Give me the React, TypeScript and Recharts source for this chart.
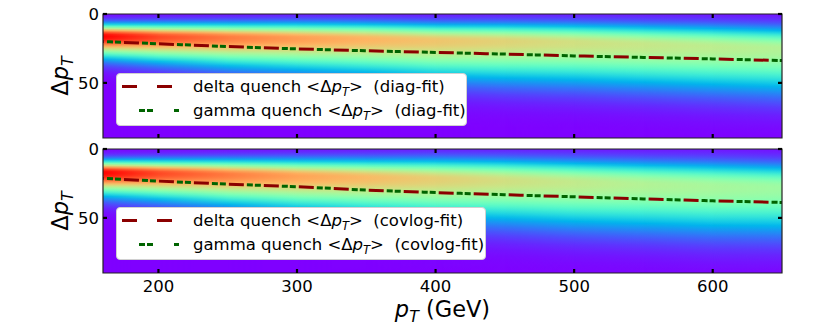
import React from 'react'
import { ComposedChart, Line, XAxis, YAxis, ReferenceArea, ReferenceLine, Legend } from 'recharts'

// p_T grid (GeV) shared by the fitted lines and the density band
const PT = [160, 200, 250, 300, 350, 400, 450, 500, 550, 600, 650]

// fitted mean <Δp_T> curves
const DELTA_DIAG = [20.0, 21.6, 23.6, 25.3, 26.7, 27.9, 29.1, 30.4, 31.5, 32.6, 33.8]
const GAMMA_DIAG = [20.0, 21.6, 23.6, 25.3, 26.7, 27.9, 29.1, 30.4, 31.5, 32.6, 33.8]
const DELTA_COVLOG = [21.3, 23.3, 25.5, 27.4, 29.8, 31.6, 33.2, 34.7, 36.2, 37.6, 38.8]
const GAMMA_COVLOG = [21.3, 23.3, 25.5, 27.4, 29.8, 31.6, 33.2, 34.7, 36.2, 37.6, 38.8]

// density band: mode, spread above / below, peak level
const MODE_DIAG = [16, 16.5, 17, 17.5, 18, 19, 19.5, 20.5, 22, 23.5, 25]
const UP_DIAG = [5.5, 6, 6.5, 7, 7.3, 7.6, 8, 8.5, 9, 9.5, 9.8]
const DOWN_DIAG = [10, 11.5, 13.5, 15, 16.5, 18, 19, 19.5, 20, 20.5, 21]
const PEAK_DIAG = [1.0, 0.91, 0.84, 0.79, 0.75, 0.72, 0.69, 0.66, 0.64, 0.62, 0.6]

const MODE_COVLOG = [17, 17.5, 18.5, 19.5, 20.5, 21.5, 22.5, 24, 25.5, 27, 28]
const UP_COVLOG = [5.5, 6, 6.8, 7.5, 8.2, 9, 9.5, 10, 10.5, 11, 11]
const DOWN_COVLOG = [10.5, 12, 14, 16, 17.5, 19, 20, 21, 21.5, 22, 22]
const PEAK_COVLOG = [1.0, 0.91, 0.84, 0.78, 0.74, 0.7, 0.66, 0.63, 0.6, 0.58, 0.56]

const X_TICKS = [200, 300, 400, 500, 600]
const Y_TICKS = [0, 50]
const X_DOMAIN = [160, 650]
const Y_MAX = 90
// inward tick length, in axis units (~4px)
const TICK_DX = 2.9
const TICK_DY = 2.9

const RED = '#8b0000'
const GREEN = '#006400'
const FONT = 'DejaVu Sans, sans-serif'

// matplotlib "rainbow" colormap
const rainbow = (t: number) => {
  const c = (v: number) => Math.round(Math.max(0, Math.min(1, v)) * 255)
  return `rgb(${c(Math.abs(2 * t - 0.5))},${c(Math.sin(Math.PI * t))},${c(Math.cos((Math.PI * t) / 2))})`
}

type Band = { mode: number[]; up: number[]; down: number[]; peak: number[] }

const bandStops = (band: Band, i: number) => {
  const stops = []
  for (let v = 0; v <= Y_MAX; v += 1.5) {
    const s = v < band.mode[i] ? band.up[i] : band.down[i]
    const t = band.peak[i] * Math.exp(-0.5 * ((v - band.mode[i]) / s) ** 2)
    stops.push({ offset: v / Y_MAX, color: rainbow(t) })
  }
  return stops
}

const HeatDefs = ({ id, band }: { id: string; band: Band }) => (
  <>
    {PT.map((_, i) => (
      <linearGradient key={i} id={`${id}-v${i}`} x1="0" y1="0" x2="0" y2="1">
        {bandStops(band, i).map((s, k) => (
          <stop key={k} offset={s.offset} stopColor={s.color} />
        ))}
      </linearGradient>
    ))}
  </>
)

const heatShape = (id: string, i: number) => (p: any) => {
  const w = p.width + (i < PT.length - 2 ? 0.8 : 0)
  return (
    <g>
      <rect x={p.x} y={p.y} width={w} height={p.height} fill={`url(#${id}-v${i})`} />
      <rect x={p.x} y={p.y} width={w} height={p.height} fill={`url(#${id}-v${i + 1})`} mask="url(#hmask)" />
    </g>
  )
}

const MathText = ({ x, y, size, pre, post }: any) => (
  <text x={x} y={y} fontSize={size} fontFamily={FONT} fill="#000" style={{ whiteSpace: 'pre' }}>
    {pre}Δ
    <tspan fontStyle="italic">p</tspan>
    <tspan fontStyle="italic" fontSize={size * 0.7} dy={size * 0.22}>T</tspan>
    <tspan dy={-size * 0.22}>{post}</tspan>
  </text>
)

const LegendBox = ({ fit, width }: { fit: string; width: number }) => (
  <div
    style={{
      width,
      height: 53,
      boxSizing: 'border-box',
      background: '#fff',
      border: '1px solid #d0d0d0',
      borderRadius: 4,
    }}
  >
    <svg width={width - 2} height={51} style={{ display: 'block' }}>
      <line x1={5} x2={55} y1={12.5} y2={12.5} stroke={RED} strokeWidth={3} strokeDasharray="15 20" />
      <line x1={22} x2={62} y1={36.5} y2={36.5} stroke={GREEN} strokeWidth={3} strokeDasharray="6 2 6 21" />
      <MathText x={76} y={18} size={16.5} pre="delta quench <" post={`>  (${fit})`} />
      <MathText x={76} y={42} size={16.5} pre="gamma quench <" post={`>  (${fit})`} />
    </svg>
  </div>
)

const YTitle = ({ cy }: { cy: number }) => (
  <g transform={`rotate(-90, 61, ${cy})`}>
    <text x={61} y={cy + 7} textAnchor="middle" fontSize={22.5} fontFamily={FONT} fill="#000">
      Δ<tspan fontStyle="italic">p</tspan>
      <tspan fontStyle="italic" fontSize={15.75} dy={5}>T</tspan>
    </text>
  </g>
)

const XTitle = ({ base }: { base: number }) => (
  <text x={442.5} y={base} textAnchor="middle" fontSize={22.5} fontFamily={FONT} fill="#000" style={{ whiteSpace: 'pre' }}>
    <tspan fontStyle="italic">p</tspan>
    <tspan fontStyle="italic" fontSize={15.75} dy={5}>T</tspan>
    <tspan dy={-5}> (GeV)</tspan>
  </text>
)

const tickFont = { fill: '#000', fontSize: 16.5, fontFamily: FONT }
const FRAME = '#222'

type PanelProps = {
  id: string
  fit: string
  delta: number[]
  gamma: number[]
  band: Band
  height: number
  plotTop: number
  plotBottom: number
  showX: boolean
  legendTop: number
  legendWidth: number
}

// plot box spans x 103..782 in every panel.
// The heat map and curves go in a base chart; the frame, ticks and legend in an overlay on top.
const Panel = ({ id, fit, delta, gamma, band, height, plotTop, plotBottom, showX, legendTop, legendWidth }: PanelProps) => {
  const data = PT.map((pT, i) => ({ pT, delta: delta[i], gamma: gamma[i] }))
  const baseMargin = { top: plotTop, right: 830 - 782, bottom: height - plotBottom, left: 103 }
  // the label axes take 1px each out of the margins
  const frameMargin = { top: plotTop, right: 830 - 782, bottom: height - plotBottom - 1, left: 103 - 1 }
  const xMin = X_DOMAIN[0]
  const xMax = X_DOMAIN[1]
  return (
    <div style={{ position: 'relative', width: 830, height }}>
      <div style={{ position: 'absolute', left: 0, top: 0, zIndex: 1 }}>
        <ComposedChart width={830} height={height} data={data} margin={baseMargin}>
          <XAxis dataKey="pT" type="number" domain={X_DOMAIN} allowDataOverflow hide />
          <YAxis type="number" domain={[0, Y_MAX]} reversed allowDataOverflow hide />
          {PT.slice(0, -1).map((pT, i) => (
            <ReferenceArea
              key={pT}
              x1={pT}
              x2={PT[i + 1]}
              y1={0}
              y2={Y_MAX}
              ifOverflow="visible"
              shape={heatShape(id, i)}
            />
          ))}
          <Line
            dataKey="gamma"
            type="monotone"
            stroke={GREEN}
            strokeWidth={3}
            strokeDasharray="6 2 6 21"
            strokeDashoffset={31}
            dot={false}
            isAnimationActive={false}
          />
          <Line
            dataKey="delta"
            type="monotone"
            stroke={RED}
            strokeWidth={3}
            strokeDasharray="15 20"
            strokeDashoffset={14}
            dot={false}
            isAnimationActive={false}
          />
        </ComposedChart>
      </div>
      <div style={{ position: 'absolute', left: 0, top: 0, zIndex: 2 }}>
        <ComposedChart width={830} height={height} data={data} margin={frameMargin}>
          <XAxis
            dataKey="pT"
            type="number"
            domain={X_DOMAIN}
            ticks={X_TICKS}
            interval={0}
            height={1}
            allowDataOverflow
            tickSize={0}
            tickMargin={7}
            tick={showX ? tickFont : false}
            tickLine={false}
            axisLine={false}
            label={showX ? <XTitle base={plotBottom + 44} /> : undefined}
          />
          <YAxis
            type="number"
            domain={[0, Y_MAX]}
            reversed
            ticks={Y_TICKS}
            interval={0}
            width={1}
            allowDataOverflow
            tickSize={0}
            tickMargin={4}
            tick={tickFont}
            tickLine={false}
            axisLine={false}
            label={<YTitle cy={(plotTop + plotBottom) / 2} />}
          />
          <ReferenceArea
            x1={xMin}
            x2={xMax}
            y1={0}
            y2={Y_MAX}
            ifOverflow="visible"
            fill="none"
            fillOpacity={0}
            stroke={FRAME}
            strokeWidth={1.2}
          />
          {X_TICKS.map((v) => (
            <ReferenceLine
              key={`t${v}`}
              segment={[{ x: v, y: 0 }, { x: v, y: TICK_DY }]}
              ifOverflow="visible"
              stroke="#000"
              strokeWidth={2.2}
            />
          ))}
          {X_TICKS.map((v) => (
            <ReferenceLine
              key={`b${v}`}
              segment={[{ x: v, y: Y_MAX }, { x: v, y: Y_MAX - TICK_DY }]}
              ifOverflow="visible"
              stroke="#000"
              strokeWidth={2.2}
            />
          ))}
          {Y_TICKS.map((v) => (
            <ReferenceLine
              key={`l${v}`}
              segment={[{ x: xMin, y: v }, { x: xMin + TICK_DX, y: v }]}
              ifOverflow="visible"
              stroke="#000"
              strokeWidth={2.2}
            />
          ))}
          {Y_TICKS.map((v) => (
            <ReferenceLine
              key={`r${v}`}
              segment={[{ x: xMax, y: v }, { x: xMax - TICK_DX, y: v }]}
              ifOverflow="visible"
              stroke="#000"
              strokeWidth={2.2}
            />
          ))}
          <Legend
            layout="vertical"
            align="center"
            verticalAlign="middle"
            wrapperStyle={{ left: 116, top: legendTop, width: legendWidth, height: 53, right: 'auto', bottom: 'auto' }}
            content={() => <LegendBox fit={fit} width={legendWidth} />}
          />
        </ComposedChart>
      </div>
    </div>
  )
}

const DIAG_BAND: Band = { mode: MODE_DIAG, up: UP_DIAG, down: DOWN_DIAG, peak: PEAK_DIAG }
const COVLOG_BAND: Band = { mode: MODE_COVLOG, up: UP_COVLOG, down: DOWN_COVLOG, peak: PEAK_COVLOG }

const BOTTOM_TOP = 141

export default function App() {
  return (
    <div style={{ position: 'absolute', left: 0, top: 0, width: 830, height: 332, background: '#fff', fontFamily: FONT }}>
      <svg width={0} height={0} style={{ position: 'absolute' }}>
        <defs>
          <linearGradient id="hfade" x1="0" y1="0" x2="1" y2="0">
            <stop offset="0" stopColor="#fff" stopOpacity={0} />
            <stop offset="1" stopColor="#fff" stopOpacity={1} />
          </linearGradient>
          <mask id="hmask" maskContentUnits="objectBoundingBox">
            <rect x="0" y="0" width="1" height="1" fill="url(#hfade)" />
          </mask>
          <HeatDefs id="diag" band={DIAG_BAND} />
          <HeatDefs id="covlog" band={COVLOG_BAND} />
        </defs>
      </svg>
      <div style={{ position: 'absolute', left: 0, top: 0 }}>
        <Panel
          id="diag"
          fit="diag-fit"
          delta={DELTA_DIAG}
          gamma={GAMMA_DIAG}
          band={DIAG_BAND}
          height={BOTTOM_TOP}
          plotTop={14}
          plotBottom={138}
          showX={false}
          legendTop={73}
          legendWidth={351}
        />
      </div>
      <div style={{ position: 'absolute', left: 0, top: BOTTOM_TOP }}>
        <Panel
          id="covlog"
          fit="covlog-fit"
          delta={DELTA_COVLOG}
          gamma={GAMMA_COVLOG}
          band={COVLOG_BAND}
          height={332 - BOTTOM_TOP}
          plotTop={149 - BOTTOM_TOP}
          plotBottom={273 - BOTTOM_TOP}
          showX
          legendTop={207 - BOTTOM_TOP}
          legendWidth={370}
        />
      </div>
    </div>
  )
}
